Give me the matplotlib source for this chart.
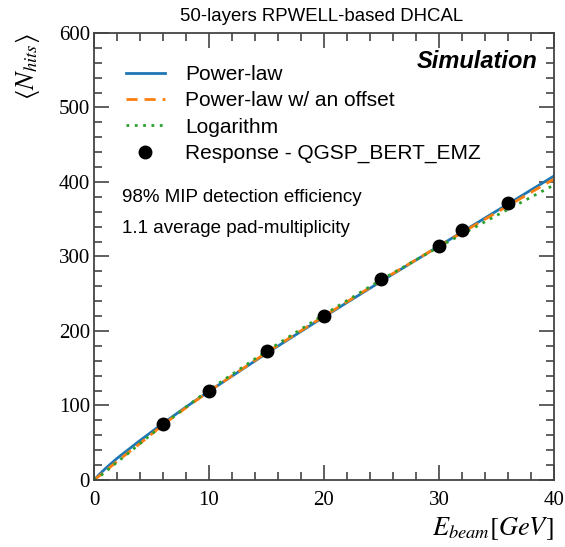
import matplotlib
matplotlib.use("Agg")
import matplotlib.pyplot as plt
from matplotlib.ticker import MultipleLocator

# Simulated response (QGSP_BERT_EMZ)
e_beam = [6, 10, 15, 20, 25, 30, 32, 36]
n_hits = [75.5, 120, 173.5, 220.5, 270, 314.5, 335, 372]

# Fit curves
e_fit = [0, 0.5, 1, 2, 3, 4, 6, 8, 10, 15, 20, 25, 30, 35, 40]
power_law = [0, 8, 15.5, 29, 41, 53, 76, 98, 119, 170, 219, 267, 314, 361, 408]
power_offset = [0, 6, 12, 25, 37, 49, 74, 97, 119, 171, 220, 268, 314, 359, 404]
logarithm = [0, 5, 11, 24, 36, 49, 74, 98, 121, 173, 222, 269, 313, 355, 396]

plt.rcParams["font.family"] = "Liberation Sans"
plt.rcParams["mathtext.fontset"] = "stix"

fig = plt.figure(figsize=(5.65, 5.47), dpi=100)
ax = fig.add_axes([0.1664, 0.1225, 0.8141, 0.8172])

ax.plot(e_fit, power_law, color="#1f77b4", lw=2, label="Power-law")
ax.plot(e_fit, power_offset, color="#ff7f0e", lw=2, ls=(0, (4, 2.5)),
        label="Power-law w/ an offset")
ax.plot(e_fit, logarithm, color="#2ca02c", lw=2, ls=(0, (1, 2)),
        label="Logarithm")
ax.plot(e_beam, n_hits, "o", color="black", ms=9, ls="none",
        label="Response - QGSP_BERT_EMZ")

ax.set_xlim(0, 40)
ax.set_ylim(0, 600)
ax.xaxis.set_major_locator(MultipleLocator(10))
ax.xaxis.set_minor_locator(MultipleLocator(2))
ax.yaxis.set_major_locator(MultipleLocator(100))
ax.yaxis.set_minor_locator(MultipleLocator(20))
ax.tick_params(which="both", direction="in", top=True, right=True,
               color="#444444", width=1.2)
ax.tick_params(which="major", length=11, labelsize=15, pad=3)
ax.tick_params(axis="x", which="major", pad=8)
ax.tick_params(which="minor", length=6)
for lab in ax.get_xticklabels() + ax.get_yticklabels():
    lab.set_family("Liberation Serif")
for sp in ax.spines.values():
    sp.set_color("#444444")
    sp.set_linewidth(1.3)

ax.set_xlabel(r"$E_{beam}[GeV]$", fontsize=19, loc="right", labelpad=4)
ax.set_ylabel(r"$\langle N_{hits}\rangle$", fontsize=19, loc="top", labelpad=12)

ax.legend(loc="upper left", bbox_to_anchor=(0.028, 0.97), frameon=False,
          fontsize=15, handlelength=1.9, handletextpad=0.95, labelspacing=0.35)

ax.text(0.965, 0.937, "Simulation", transform=ax.transAxes, ha="right",
        va="center", fontsize=17, fontweight="bold", fontstyle="italic")
ax.text(0.06, 0.632, "98% MIP detection efficiency", transform=ax.transAxes,
        fontsize=13.5, va="center")
ax.text(0.06, 0.562, "1.1 average pad-multiplicity", transform=ax.transAxes,
        fontsize=13.5, va="center")

fig.text(0.57, 0.97, "50-layers RPWELL-based DHCAL", ha="center",
         va="center", fontsize=13.4)

fig.savefig("out.png", dpi=100)
